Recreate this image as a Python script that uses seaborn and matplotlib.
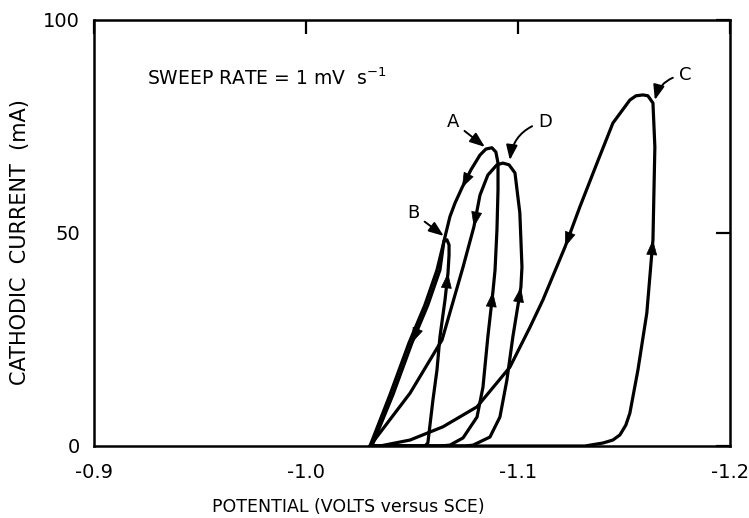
import numpy as np
import pandas as pd
import seaborn as sns
import matplotlib.pyplot as plt

# potential (V vs SCE) and cathodic current (mA); each loop = forward sweep then reverse sweep
volts_A = [-1.0302, -1.0632, -1.0679, -1.0741, -1.0807, -1.0835, -1.0858, -1.0882, -1.0892, -1.0901,
           -1.0906, -1.0906, -1.0896, -1.0877, -1.0849, -1.0821, -1.0778, -1.0736, -1.0703, -1.0679,
           -1.0656, -1.0618, -1.0561, -1.0486, -1.0396, -1.0302]
amps_A = [0, 0, 0.2, 1.9, 6.8, 13.8, 25.6, 36.2, 41.3, 50.7,
          60.1, 66.4, 69.0, 70.0, 69.7, 68.3, 64.8, 60.6, 57.0, 53.8,
          49.1, 41.3, 33.1, 24.2, 12.0, 0]

volts_B = [-1.0302, -1.0561, -1.0575, -1.0599, -1.0618, -1.0632, -1.0656, -1.0670, -1.0675, -1.0675,
           -1.0665, -1.0651, -1.0632, -1.0575, -1.0500, -1.0410, -1.0311]
amps_B = [0, 0, 0.7, 10.8, 17.8, 25.6, 34.3, 40.6, 44.8, 47.2,
          48.4, 48.1, 41.3, 33.1, 24.2, 12.0, 0]

volts_C = [-1.0302, -1.1316, -1.1401, -1.1448, -1.1481, -1.1509, -1.1528, -1.1566, -1.1608, -1.1637,
           -1.1646, -1.1637, -1.1613, -1.1590, -1.1557, -1.1528, -1.1448, -1.1373, -1.1292, -1.1222,
           -1.1118, -1.1057, -1.0962, -1.0807, -1.0646, -1.0491, -1.0349]
amps_C = [0, 0, 0.7, 1.4, 2.6, 4.9, 7.7, 17.8, 31.2, 48.4,
          70.2, 80.5, 82.2, 82.4, 82.2, 81.2, 75.8, 66.4, 56.1, 46.7,
          34.3, 27.9, 18.5, 9.2, 4.5, 1.4, 0]

volts_D = [-1.0302, -1.0750, -1.0788, -1.0868, -1.0915, -1.0948, -1.0976, -1.1014, -1.1019, -1.1014,
           -1.1009, -1.0986, -1.0958, -1.0929, -1.0901, -1.0858, -1.0821, -1.0792, -1.0741, -1.0642,
           -1.0491, -1.0349, -1.0302]
amps_D = [0, 0, 0.2, 2.1, 6.8, 15.5, 25.6, 37.3, 42.0, 48.4,
          54.7, 64.1, 66.0, 66.4, 66.0, 63.6, 58.9, 51.4, 42.0, 24.9,
          12.4, 3.1, 0]

# direction arrows: (loop, segment start index) -> head at the next point
arrow_segs = [('A', 6), ('A', 16), ('B', 6), ('B', 13), ('C', 8), ('C', 18), ('D', 6), ('D', 16)]

# loop labels: (name, text position, point the pointer touches, curvature)
labels = [('A', (-1.0693, 76.1), (-1.0844, 70.2), 0.0),
          ('B', (-1.0505, 54.7), (-1.0650, 49.3), 0.0),
          ('C', (-1.1788, 87.1), (-1.1646, 81.2), 0.35),
          ('D', (-1.1127, 76.1), (-1.0962, 67.1), 0.35)]

x_ticks = [-0.9, -1.0, -1.1, -1.2]
x_ticklabels = ['-0.9', '-1.0', '-1.1', '-1.2']
y_ticks = [0, 50, 100]
y_ticklabels = ['0', '50', '100']

loops = {'A': (volts_A, amps_A), 'B': (volts_B, amps_B),
         'C': (volts_C, amps_C), 'D': (volts_D, amps_D)}
df = pd.concat([pd.DataFrame({'loop': k, 'step': np.arange(len(v)), 'V': v, 'I': i})
                for k, (v, i) in loops.items()], ignore_index=True)

sns.set_style('white')
plt.rcParams['font.family'] = ['DejaVu Sans']
plt.rcParams['text.color'] = 'black'
plt.rcParams['xtick.color'] = 'black'
plt.rcParams['ytick.color'] = 'black'
plt.rcParams['axes.labelcolor'] = 'black'

fig = plt.figure(figsize=(7.49, 5.18), dpi=100)
ax = fig.add_axes([0.1255, 0.139, 0.849, 0.8225])

sns.lineplot(data=df, x='V', y='I', units='loop', estimator=None, sort=False,
             color='black', lw=2.3, ax=ax, legend=False, solid_joinstyle='round')

for name, i in arrow_segs:
    v, a = loops[name]
    ax.annotate('', xy=(v[i + 1], a[i + 1]), xytext=(v[i], a[i]),
                arrowprops=dict(arrowstyle='-|>,head_length=0.5,head_width=0.18',
                                mutation_scale=20, color='black', lw=0.5,
                                shrinkA=0, shrinkB=0))

for name, txt_pos, tip, rad in labels:
    ax.annotate(name, xy=tip, xytext=txt_pos, fontsize=13, ha='center', va='center',
                color='black',
                arrowprops=dict(arrowstyle='-|>,head_length=0.45,head_width=0.17',
                                mutation_scale=20, color='black', lw=1.4,
                                shrinkA=2, shrinkB=0,
                                connectionstyle=f'arc3,rad={rad}'))

ax.text(-0.925, 86.4, 'SWEEP RATE = 1 mV  s$^{-1}$', fontsize=13.5, ha='left', va='center',
        color='black')

ax.set_xlim(-0.9, -1.2)
ax.set_ylim(0, 100)
ax.set_xticks(x_ticks)
ax.set_xticklabels(x_ticklabels)
ax.set_yticks(y_ticks)
ax.set_yticklabels(y_ticklabels)
ax.tick_params(direction='in', length=10, width=1.6, top=True, right=True,
               labelsize=14, color='black', labelcolor='black')
ax.tick_params(axis='x', pad=12)
ax.tick_params(axis='y', pad=10)
for s in ax.spines.values():
    s.set_linewidth(1.8)
    s.set_color('black')

ax.set_xlabel('')
ax.set_ylabel('')
fig.text(348 / 749, 1 - 507 / 518, 'POTENTIAL (VOLTS versus SCE)', fontsize=12.5,
         ha='center', va='center', color='black')
fig.text(20 / 749, 1 - 242 / 518, 'CATHODIC  CURRENT  (mA)', fontsize=15,
         ha='center', va='center', rotation=90, color='black')

fig.savefig('out.png', dpi=100)
